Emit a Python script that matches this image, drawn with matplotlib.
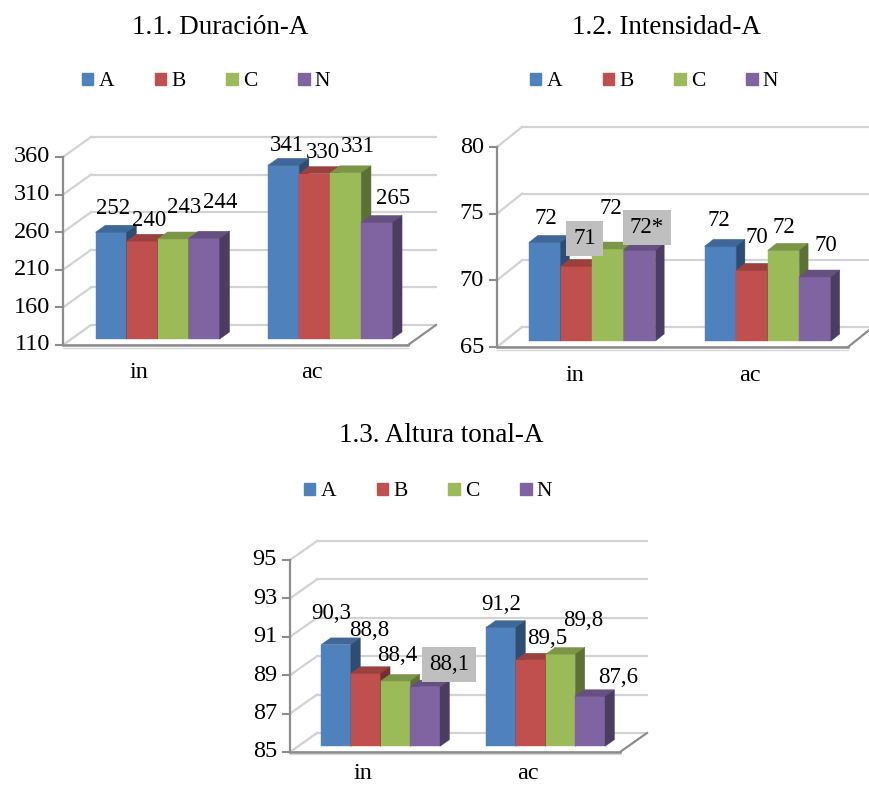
import matplotlib.pyplot as plt
from matplotlib.patches import Polygon, Patch
import numpy as np

plt.rcParams['font.family'] = ['Liberation Serif', 'DejaVu Serif']

series = ['A', 'B', 'C', 'N']
groups = ['in', 'ac']
colors = ['#4F81BD', '#C0504D', '#9BBB59', '#8064A2']

# 1.1 Duración-A
duracion_in = [252, 240, 243, 244]
duracion_ac = [341, 330, 331, 265]

# 1.2 Intensidad-A (labels are rounded, * marks the significant one)
intensidad_in = [72.4, 70.6, 71.9, 71.8]
intensidad_ac = [72.1, 70.3, 71.8, 69.8]
intensidad_marks = ['', '', '', '*', '', '', '', '']

# 1.3 Altura tonal-A
altura_in = [90.3, 88.8, 88.4, 88.1]
altura_ac = [91.2, 89.5, 89.8, 87.6]

W, H = 869, 788
fig = plt.figure(figsize=(W / 100, H / 100), dpi=100)

BW = 0.18          # bar width in category units
D0, D1 = 0.3, 0.65  # bar front / back depth (0 = front of floor, 1 = back wall)


def shade(c, f):
    r, g, b = [int(c[k:k + 2], 16) / 255 for k in (1, 3, 5)]
    return (r * f, g * f, b * f)


def draw_panel(box, ylim, step, wall, values, labels, offsets, boxed, cat_dy=-28):
    x0, x1, ybot, ytop = box
    ymin, ymax = ylim
    ax = fig.add_axes([x0 / W, 1 - ybot / H, (x1 - x0) / W, (ybot - ytop) / H])
    ax.set_xlim(-0.5, 1.5)
    ax.set_ylim(ymin, ymax)
    ax.axis('off')

    px_x = (x1 - x0) / 2.0
    px_y = (ybot - ytop) / (ymax - ymin)
    kx = wall[0] / px_x   # full depth shift in data units
    ky = wall[1] / px_y

    # floor
    floor = Polygon([(-0.5, ymin), (1.5, ymin), (1.5 + kx, ymin + ky), (-0.5 + kx, ymin + ky)],
                    closed=True, fc='white', ec='#C8C8C8', lw=1.2, zorder=1, clip_on=False)
    ax.add_patch(floor)
    ax.plot([-0.5, 1.5], [ymin, ymin], color='#8C8C8C', lw=1.8, zorder=2, clip_on=False)
    ax.plot([1.5, 1.5 + kx], [ymin, ymin + ky], color='#8C8C8C', lw=1.5, zorder=2, clip_on=False)
    ax.plot([-0.5, 1.5], [ymin - 2.5 / px_y] * 2, color='#D8D8D8', lw=1.0, zorder=1, clip_on=False)

    # back wall and side wall gridlines
    ticks = np.arange(ymin, ymax + step / 2, step)
    for t in ticks:
        ax.plot([-0.5 + kx, 1.5 + kx], [t + ky, t + ky], color='#D3D3D3', lw=1.6, zorder=1, clip_on=False)
        ax.plot([-0.5, -0.5 + kx], [t, t + ky], color='#D3D3D3', lw=1.6, zorder=1, clip_on=False)
        ax.plot([-0.5 - 7 / px_x, -0.5], [t, t], color='#8C8C8C', lw=1.5, zorder=2, clip_on=False)
        ax.annotate('%g' % t, xy=(-0.5, t), xytext=(-13, 0), textcoords='offset pixels',
                    ha='right', va='center', fontsize=17.5)
    ax.plot([-0.5, -0.5], [ymin, ymax], color='#8C8C8C', lw=1.6, zorder=2, clip_on=False)

    # bars
    n = 0
    for g, vals in enumerate(values):
        for i, v in enumerate(vals):
            c = colors[i]
            xl = g - 2 * BW + i * BW
            xr = xl + BW
            z = 3 + i
            ax.bar(xl + D0 * kx, v - ymin, width=BW, bottom=ymin + D0 * ky, align='edge',
                   color=c, ec=c, lw=0.3, zorder=z, clip_on=False)
            top = Polygon([(xl + D0 * kx, v + D0 * ky), (xr + D0 * kx, v + D0 * ky),
                           (xr + D1 * kx, v + D1 * ky), (xl + D1 * kx, v + D1 * ky)],
                          closed=True, fc=shade(c, 0.8), ec=shade(c, 0.8), lw=0.3,
                          zorder=z, clip_on=False)
            side = Polygon([(xr + D0 * kx, ymin + D0 * ky), (xr + D0 * kx, v + D0 * ky),
                            (xr + D1 * kx, v + D1 * ky), (xr + D1 * kx, ymin + D1 * ky)],
                           closed=True, fc=shade(c, 0.6), ec=shade(c, 0.6), lw=0.3,
                           zorder=z, clip_on=False)
            ax.add_patch(top)
            ax.add_patch(side)

            bbox = None
            if n in boxed:
                bbox = dict(boxstyle='square,pad=0.3', fc='#BFBFBF', ec='none')
            ax.annotate(labels[n], xy=(xl + BW / 2 + D0 * kx, v + D0 * ky), xytext=offsets[n],
                        textcoords='offset pixels', ha='center', va='center',
                        fontsize=16.5, bbox=bbox, zorder=10)
            n += 1

    for g, name in enumerate(groups):
        ax.annotate(name, xy=(g, ymin), xytext=(-10, cat_dy), textcoords='offset pixels',
                    ha='center', va='center', fontsize=17.5)
    return ax


def header(title, tx, ty, lx, ly):
    fig.text(tx / W, 1 - ty / H, title, ha='center', va='center', fontsize=19.5)
    handles = [Patch(color=c) for c in colors]
    fig.legend(handles, series, loc='center', bbox_to_anchor=(lx / W, 1 - ly / H), ncol=4,
               frameon=False, fontsize=15.5, handlelength=0.52, handleheight=0.52,
               handletextpad=0.25, columnspacing=1.9)


# 1.1
lab1 = ['%d' % v for v in duracion_in + duracion_ac]
off1 = [(2, 24), (7, 21), (11, 31), (16, 36), (3, 20), (8, 21), (12, 26), (16, 24)]
draw_panel((63, 408, 345, 157), (110, 360), 50, (28, 20),
           [duracion_in, duracion_ac], lab1, off1, [])
header('1.1. Duración-A', 220, 27, 206, 82)

# 1.2
lab2 = ['%.0f%s' % (v, m) for v, m in zip(intensidad_in + intensidad_ac, intensidad_marks)]
off2 = [(1, 24), (8, 28), (3, 41), (7, 23), (-1, 26), (5, 33), (0, 23), (11, 32)]
draw_panel((497, 848, 347, 147), (65, 80), 5, (25, 20),
           [intensidad_in, intensidad_ac], lab2, off2, [1, 3])
header('1.2. Intensidad-A', 666, 27, 654, 82)

# 1.3
lab3 = [('%.1f' % v).replace('.', ',') for v in altura_in + altura_ac]
off3 = [(-5, 31), (3, 43), (2, 26), (24, 22), (0, 23), (16, 21), (23, 34), (28, 19)]
draw_panel((290, 620, 752, 560), (85, 95), 2, (27, 19),
           [altura_in, altura_ac], lab3, off3, [3], cat_dy=-22)
header('1.3. Altura tonal-A', 441, 436, 428, 492)

fig.savefig('out.png', dpi=100)
